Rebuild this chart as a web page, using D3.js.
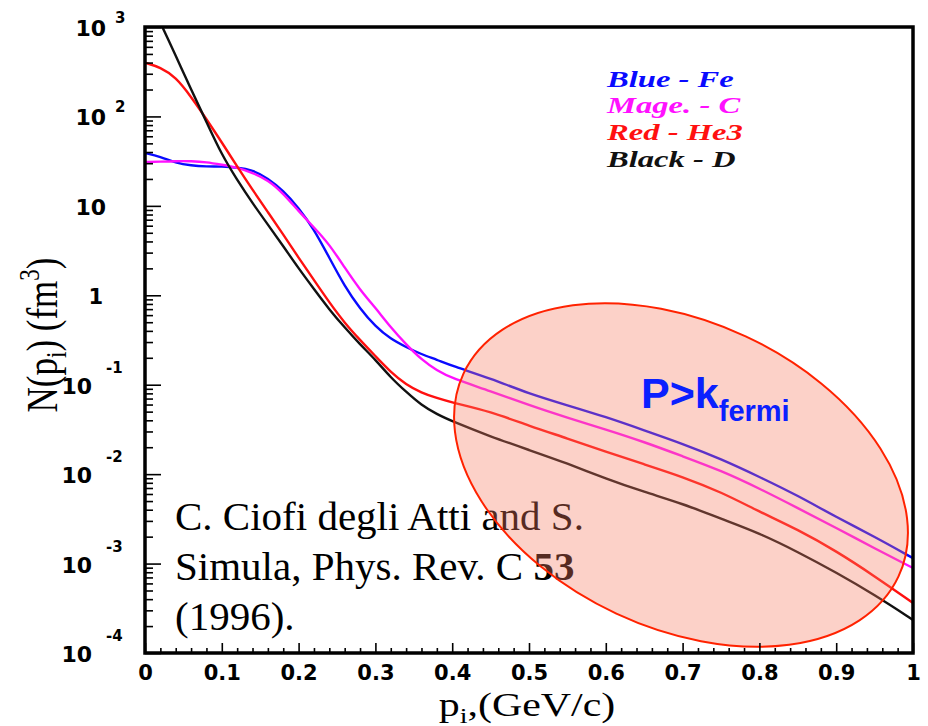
<!DOCTYPE html>
<html>
<head>
<meta charset="utf-8">
<script src="https://cdn.jsdelivr.net/npm/d3@7"></script>
<style>
  body { margin: 0; background: #fff; }
</style>
</head>
<body>
<div id="chart"></div>
<script>
// momentum grid, GeV/c
const pGrid = [0, 0.02, 0.04, 0.06, 0.08, 0.10, 0.12, 0.14, 0.16, 0.18, 0.20,
  0.22, 0.24, 0.26, 0.28, 0.30, 0.32, 0.34, 0.36, 0.38, 0.40,
  0.45, 0.50, 0.55, 0.60, 0.65, 0.70, 0.75, 0.80, 0.85, 0.90, 0.95, 1.00];

// log10 of N(p) in fm^3
const feLog10 = [1.59, 1.55, 1.48, 1.45, 1.44, 1.44, 1.43, 1.40, 1.31, 1.17, 0.98,
  0.74, 0.42, 0.10, -0.15, -0.35, -0.49, -0.58, -0.66, -0.72, -0.79,
  -0.93, -1.10, -1.23, -1.36, -1.51, -1.66, -1.83, -2.03, -2.24, -2.48, -2.70, -2.94];
const cLog10 = [1.49, 1.495, 1.50, 1.50, 1.49, 1.46, 1.43, 1.37, 1.29, 1.14, 0.94,
  0.76, 0.57, 0.31, 0.06, -0.14, -0.36, -0.55, -0.72, -0.84, -0.93,
  -1.07, -1.23, -1.37, -1.50, -1.64, -1.80, -1.96, -2.16, -2.38, -2.60, -2.83, -3.05];
const he3Log10 = [2.60, 2.55, 2.44, 2.22, 1.97, 1.71, 1.44, 1.18, 0.93, 0.68, 0.42,
  0.17, -0.08, -0.31, -0.50, -0.68, -0.86, -1.00, -1.09, -1.15, -1.20,
  -1.30, -1.46, -1.60, -1.75, -1.89, -2.03, -2.20, -2.42, -2.62, -2.86, -3.14, -3.44];
const dLog10 = [3.40, 3.05, 2.68, 2.30, 1.94, 1.57, 1.29, 1.03, 0.79, 0.55, 0.30,
  0.07, -0.16, -0.36, -0.55, -0.72, -0.92, -1.08, -1.23, -1.33, -1.41,
  -1.58, -1.73, -1.88, -2.05, -2.20, -2.33, -2.50, -2.66, -2.87, -3.10, -3.35, -3.63];

const seriesNames = ["Fe", "C", "He3", "D"];
const seriesColors = ["#0a0aff", "#ff10ff", "#ff1010", "#111111"];
const legendLabels = ["Blue - Fe", "Mage. - C", "Red - He3", "Black - D"];

const xTicks = [0, 0.1, 0.2, 0.3, 0.4, 0.5, 0.6, 0.7, 0.8, 0.9, 1];
const xTickLabels = ["0", "0.1", "0.2", "0.3", "0.4", "0.5", "0.6", "0.7", "0.8", "0.9", "1"];
const yExponents = [-4, -3, -2, -1, 0, 1, 2, 3];

const citeLines = ["C. Ciofi degli Atti and S.", "Simula, Phys. Rev. C ", "(1996)."];

const width = 928;
const height = 726;

function drawChart() {
  const svg = d3.select("#chart")
    .append("svg")
    .attr("width", width)
    .attr("height", height);

  const x = d3.scaleLinear().domain([0, 1]).range([145, 913]);
  const y = d3.scaleLog().domain([1e-4, 1e3]).range([653, 27]);

  svg.append("clipPath").attr("id", "plotclip")
    .append("rect")
    .attr("x", 145).attr("y", 27)
    .attr("width", 768).attr("height", 626);

  const allSeries = [feLog10, cLog10, he3Log10, dLog10].map((vals, i) => ({
    name: seriesNames[i],
    color: seriesColors[i],
    points: vals.map((v, j) => ({ p: pGrid[j], n: Math.pow(10, v) }))
  }));

  // basis smoothing, the read-off points are a bit noisy
  const line = d3.line()
    .x(d => x(d.p))
    .y(d => y(d.n))
    .curve(d3.curveBasis);

  svg.append("g")
    .attr("clip-path", "url(#plotclip)")
    .selectAll("path")
    .data(allSeries)
    .enter()
    .append("path")
    .attr("fill", "none")
    .attr("stroke", d => d.color)
    .attr("stroke-width", 2.4)
    .attr("d", d => line(d.points));

  // citation
  const cite = svg.append("g")
    .attr("font-family", "'Liberation Serif', 'Times New Roman', serif")
    .attr("font-size", 41)
    .attr("fill", "#000");
  cite.append("text").attr("x", 175).attr("y", 530).text(citeLines[0]);
  const l2 = cite.append("text").attr("x", 175).attr("y", 580);
  l2.append("tspan").text(citeLines[1]);
  l2.append("tspan").attr("font-weight", "bold").text("53");
  cite.append("text").attr("x", 175).attr("y", 630).text(citeLines[2]);

  // highlighted region
  svg.append("ellipse")
    .attr("cx", 681).attr("cy", 475)
    .attr("rx", 240).attr("ry", 153)
    .attr("transform", "rotate(25,681,475)")
    .attr("fill", "#f67a62")
    .attr("fill-opacity", 0.35)
    .attr("stroke", "#ff2200")
    .attr("stroke-width", 2);

  const pk = svg.append("text")
    .attr("x", 641).attr("y", 408)
    .attr("font-family", "'Liberation Sans', Arial, sans-serif")
    .attr("font-weight", "bold")
    .attr("font-size", 43)
    .attr("fill", "#0a20ff");
  pk.append("tspan").text("P>k");
  pk.append("tspan").attr("font-size", 29).attr("dy", 13).text("fermi");

  // ticks
  const yMinor = [];
  for (let k = -4; k < 3; k++) {
    for (let m = 2; m <= 9; m++) yMinor.push(m * Math.pow(10, k));
  }
  const yMajor = yExponents.map(e => Math.pow(10, e));

  const xMinor = d3.range(0, 51).map(i => i * 0.02).filter(v => Math.abs(v * 10 - Math.round(v * 10)) > 1e-6);

  function tickAxis(axis, tr) {
    const g = svg.append("g").attr("transform", tr).call(axis);
    g.select(".domain").remove();
    g.selectAll("line").attr("stroke", "#000").attr("stroke-width", 1.6);
    return g;
  }

  tickAxis(d3.axisLeft(y).tickValues(yMajor).tickSize(-16).tickFormat(""), "translate(145,0)");
  tickAxis(d3.axisLeft(y).tickValues(yMinor).tickSize(-8).tickFormat(""), "translate(145,0)");
  const xg = tickAxis(d3.axisBottom(x).tickValues(xTicks).tickSize(-10).tickPadding(18)
    .tickFormat((d, i) => xTickLabels[i]), "translate(0,653)");
  tickAxis(d3.axisBottom(x).tickValues(xMinor).tickSize(-5).tickFormat(""), "translate(0,653)");

  xg.selectAll("text")
    .attr("font-family", "'DejaVu Sans', sans-serif")
    .attr("font-weight", "bold")
    .attr("font-size", 21)
    .attr("fill", "#000")
    .attr("y", 27)
    .attr("dy", 0);

  // frame
  svg.append("rect")
    .attr("x", 145).attr("y", 27)
    .attr("width", 768).attr("height", 626)
    .attr("fill", "none")
    .attr("stroke", "#000")
    .attr("stroke-width", 3.5);

  // y tick labels 10^k
  const yl = svg.append("g")
    .attr("font-family", "'DejaVu Sans', sans-serif")
    .attr("font-weight", "bold")
    .attr("fill", "#000");
  yExponents.forEach(e => {
    const ty = y(Math.pow(10, e));
    if (e === 0) {
      yl.append("text").attr("x", 103).attr("y", ty + 9)
        .attr("text-anchor", "end").attr("font-size", 21).text("1");
    } else if (e === 1) {
      yl.append("text").attr("x", 106).attr("y", ty + 9)
        .attr("text-anchor", "end").attr("font-size", 22).text("10");
    } else if (e > 1) {
      yl.append("text").attr("x", 106).attr("y", ty + 9)
        .attr("text-anchor", "end").attr("font-size", 22).text("10");
      yl.append("text").attr("x", 115).attr("y", ty - 4)
        .attr("font-size", 15).text(String(e));
    } else {
      yl.append("text").attr("x", 92).attr("y", ty + 9)
        .attr("text-anchor", "end").attr("font-size", 22).text("10");
      yl.append("text").attr("x", 106).attr("y", ty - 12)
        .attr("font-size", 15).text(String(e));
    }
  });

  // axis titles
  const xt = svg.append("text")
    .attr("transform", "translate(527,716) scale(1.27,1)")
    .attr("text-anchor", "middle")
    .attr("font-family", "'Liberation Serif', 'Times New Roman', serif")
    .attr("font-size", 33)
    .attr("fill", "#000");
  xt.append("tspan").text("p");
  xt.append("tspan").attr("font-size", 22).attr("dy", 7).text("i");
  xt.append("tspan").attr("dy", -7).text(",(GeV/c)");

  const yt = svg.append("text")
    .attr("transform", "translate(57,335) rotate(-90) scale(1,1.27)")
    .attr("text-anchor", "middle")
    .attr("font-family", "'Liberation Serif', 'Times New Roman', serif")
    .attr("font-size", 35)
    .attr("fill", "#000");
  yt.append("tspan").text("N(p");
  yt.append("tspan").attr("font-size", 23).attr("dy", 7).text("i");
  yt.append("tspan").attr("dy", -7).text(") (fm");
  yt.append("tspan").attr("font-size", 23).attr("dy", -14).text("3");
  yt.append("tspan").attr("dy", 14).text(")");

  // legend
  const legendY = [87, 113, 140, 167];
  svg.append("g")
    .selectAll("text")
    .data(legendLabels)
    .enter()
    .append("text")
    .attr("transform", (d, i) => `translate(607,${legendY[i]}) scale(1.36,1)`)
    .attr("font-family", "'Liberation Serif', 'Times New Roman', serif")
    .attr("font-style", "italic")
    .attr("font-weight", "bold")
    .attr("font-size", 24)
    .attr("fill", (d, i) => seriesColors[i])
    .text(d => d);
}

drawChart();
</script>
</body>
</html>
